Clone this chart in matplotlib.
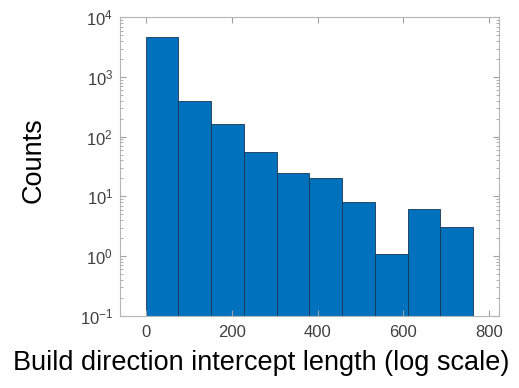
import matplotlib
matplotlib.use("Agg")
import matplotlib.pyplot as plt
import numpy as np

bin_edges = [0, 76.2, 152.4, 228.6, 304.8, 381.0, 457.2, 533.4, 609.6, 685.8, 762.0]
counts = [4640, 400, 165, 56, 25, 20, 8, 1, 6, 3]
x_ticks = [0, 200, 400, 600, 800]
x_label = "Build direction intercept length (log scale)"
y_label = "Counts"

plt.rcParams['font.family'] = ['Liberation Sans', 'DejaVu Sans']
plt.rcParams['mathtext.fontset'] = 'custom'
plt.rcParams['mathtext.rm'] = 'Liberation Sans'
plt.rcParams['mathtext.it'] = 'Liberation Sans'

W, H = 519, 388
fig = plt.figure(figsize=(W / 100, H / 100), dpi=100)
ax = fig.add_axes([0.2312, 0.1863, 0.7308, 0.769])

lefts = np.array(bin_edges[:-1])
widths = np.diff(bin_edges)
ax.bar(lefts, counts, width=widths, align='edge', bottom=0.1,
       color='#0072BD', edgecolor='#1a3550', linewidth=0.6)

ax.set_yscale('log')
ax.set_ylim(0.1, 1e4)
ax.set_xlim(-60, 823)
ax.set_xticks(x_ticks)
ax.set_xticklabels([str(t) for t in x_ticks])

axis_col = '#b5b5b5'
for s in ax.spines.values():
    s.set_color(axis_col)
    s.set_linewidth(0.8)
ax.tick_params(which='both', direction='in', top=True, right=True,
               color='#a0a0a0', labelcolor='#404040', labelsize=12)
ax.tick_params(which='major', length=4)
ax.tick_params(which='minor', length=2)
ax.tick_params(axis='x', which='minor', bottom=False, top=False)
ax.tick_params(axis='x', pad=7)
ax.tick_params(axis='y', pad=5)

fig.text(261 / W, 1 - 363 / H, x_label, fontsize=19.5, color='black',
         ha='center', va='center')
fig.text(34 / W, 1 - 160 / H, y_label, fontsize=19.5, color='black',
         ha='center', va='center', rotation=90)

fig.savefig("out.png", dpi=100)
